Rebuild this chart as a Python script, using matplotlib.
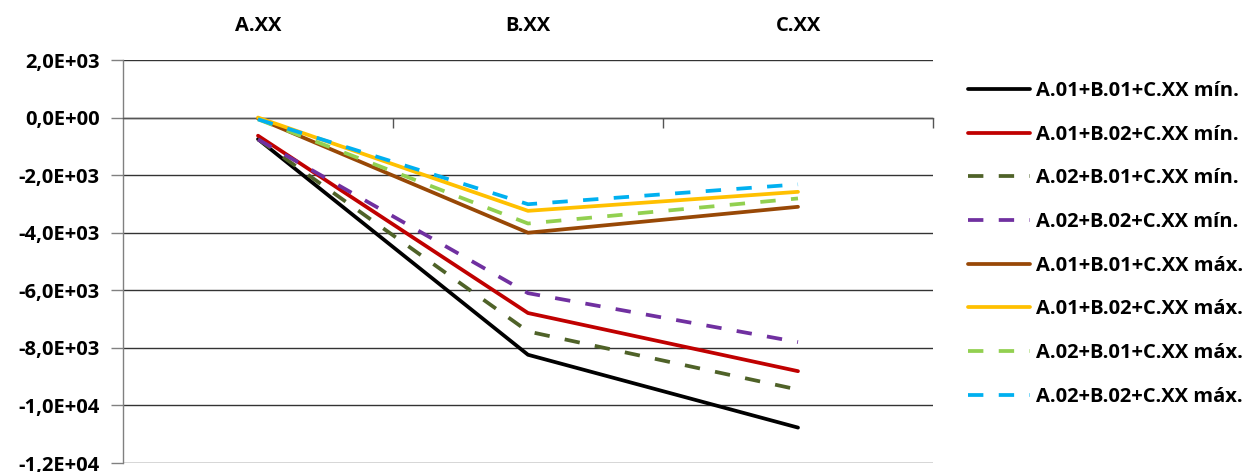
import matplotlib
matplotlib.use("Agg")
import matplotlib.pyplot as plt
from matplotlib.ticker import FuncFormatter, FixedLocator

categories = ["A.XX", "B.XX", "C.XX"]

series_names = [
    "A.01+B.01+C.XX mín.",
    "A.01+B.02+C.XX mín.",
    "A.02+B.01+C.XX mín.",
    "A.02+B.02+C.XX mín.",
    "A.01+B.01+C.XX máx.",
    "A.01+B.02+C.XX máx.",
    "A.02+B.01+C.XX máx.",
    "A.02+B.02+C.XX máx.",
]

a01_b01_min = [-750, -8240, -10770]
a01_b02_min = [-630, -6790, -8810]
a02_b01_min = [-750, -7430, -9450]
a02_b02_min = [-760, -6100, -7800]
a01_b01_max = [-30, -4000, -3100]
a01_b02_max = [0, -3240, -2580]
a02_b01_max = [-60, -3680, -2810]
a02_b02_max = [-60, -3010, -2320]

series_values = [a01_b01_min, a01_b02_min, a02_b01_min, a02_b02_min,
                 a01_b01_max, a01_b02_max, a02_b01_max, a02_b02_max]

colors = ["#000000", "#c00000", "#4f6228", "#7030a0",
          "#984806", "#ffc000", "#92d050", "#00b0f0"]
dashed = [False, False, True, True, False, False, True, True]

y_ticks = [2000, 0, -2000, -4000, -6000, -8000, -10000, -12000]

FONT = ["Open Sans", "DejaVu Sans"]
FS = 14.5
plt.rcParams["font.family"] = FONT
plt.rcParams["font.weight"] = "bold"

fig = plt.figure(figsize=(12.56, 4.72), dpi=100)
ax = fig.add_axes([123 / 1256, 9 / 472, 810 / 1256, 403 / 472])

x = list(range(len(categories)))
for name, vals, col, dsh in zip(series_names, series_values, colors, dashed):
    if dsh:
        ax.plot(x, vals, color=col, lw=2.7, linestyle=(0, (4.1, 4.1)),
                dash_capstyle="butt", label=name, zorder=3)
    else:
        ax.plot(x, vals, color=col, lw=2.7, solid_capstyle="round",
                solid_joinstyle="round", label=name, zorder=3)

ax.set_xlim(-0.5, 2.5)
ax.set_ylim(-12000, 2000)

# y axis: comma-decimal scientific labels
def sci_comma(v, pos):
    s = "%.1E" % v
    mant, exp = s.split("E")
    sign = exp[0]
    digits = exp[1:].lstrip("0").zfill(2)
    return (mant + "E" + sign + digits).replace(".", ",")

ax.yaxis.set_major_locator(FixedLocator(y_ticks))
ax.yaxis.set_major_formatter(FuncFormatter(sci_comma))
ax.tick_params(axis="y", direction="out", length=9, width=1, color="#808080",
               labelsize=FS, pad=8)
for lbl in ax.get_yticklabels():
    lbl.set_fontweight("bold")
ax.yaxis.grid(True, color="#333333", lw=1.0, zorder=1)
ax.set_axisbelow(True)

# category axis crosses at zero, with boundary ticks pointing down
ax.spines["bottom"].set_position(("data", 0))
ax.spines["bottom"].set_color("#555555")
ax.spines["bottom"].set_linewidth(1.0)
ax.xaxis.set_major_locator(FixedLocator([0.5, 1.5, 2.5]))
ax.tick_params(axis="x", direction="out", length=7, width=1, color="#555555",
               labelbottom=False)
ax.spines["left"].set_color("#808080")
ax.spines["left"].set_linewidth(1.0)
ax.spines["top"].set_visible(False)
ax.spines["right"].set_visible(False)

# category names along the top
sec = ax.secondary_xaxis("top")
sec.set_xticks(x)
sec.set_xticklabels(categories, fontsize=FS, fontweight="bold")
sec.tick_params(length=0, pad=17)
sec.spines["top"].set_visible(False)

fig.legend(loc="upper left", bbox_to_anchor=(968 / 1256, 1 - 81 / 472),
           bbox_transform=fig.transFigure, frameon=False,
           prop={"size": FS, "weight": "bold"}, handlelength=3.08,
           handletextpad=0.3, labelspacing=1.175, borderaxespad=0,
           borderpad=0)

fig.savefig("out.png", dpi=100)
